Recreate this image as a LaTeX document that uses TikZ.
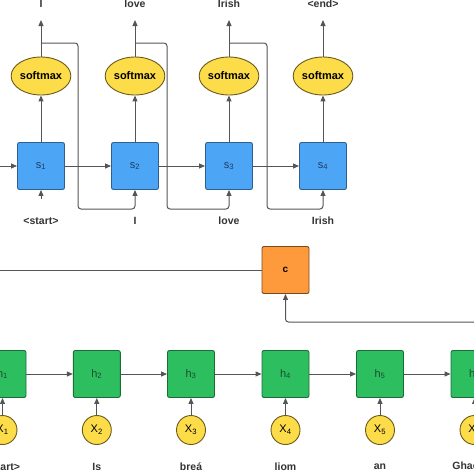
\documentclass[tikz,border=0pt]{standalone}
\usepackage{fontspec}
\setmainfont{Liberation Sans}
\usetikzlibrary{arrows.meta, shapes.geometric}
\definecolor{sfill}{HTML}{4DA6F5}
\definecolor{sline}{HTML}{2F5F8F}
\definecolor{stext}{HTML}{1F3A66}
\definecolor{hfill}{HTML}{2DBE60}
\definecolor{hline}{HTML}{1E6B3A}
\definecolor{htext}{HTML}{1D4D2D}
\definecolor{cfill}{HTML}{FF9A3C}
\definecolor{cline}{HTML}{7A4A1E}
\definecolor{yfill}{HTML}{FDDC4A}
\definecolor{yline}{HTML}{6B5A1A}
\definecolor{wiregray}{HTML}{555555}
\definecolor{wordgray}{HTML}{333333}
\tikzset{
  cell/.style={rounded corners=2pt, minimum size=47pt, inner sep=0pt, line width=0.9pt,
    font=\fontsize{11}{13}\selectfont},
  sbox/.style={cell, draw=sline, fill=sfill, text=stext},
  hbox/.style={cell, draw=hline, fill=hfill, text=htext},
  cbox/.style={cell, draw=cline, fill=cfill, text=black, font=\bfseries\fontsize{10}{12}\selectfont},
  smax/.style={ellipse, draw=yline, fill=yfill, line width=0.9pt, minimum width=54pt,
    minimum height=38pt, inner sep=0pt, font=\bfseries\fontsize{11}{13}\selectfont},
  xin/.style={circle, draw=yline, fill=yfill, line width=0.9pt, minimum size=29pt,
    inner sep=0pt, font=\fontsize{11}{13}\selectfont},
  word/.style={text=wordgray, font=\bfseries\fontsize{10.5}{12}\selectfont},
  wire/.style={draw=wiregray, line width=1pt, rounded corners=3pt},
  flow/.style={wire, -{Triangle[length=6pt,width=5pt]}}
}
\begin{document}
\begin{tikzpicture}[x=1pt, y=-1pt]
\useasboundingbox (0,0) rectangle (474,474);
% decoder
\foreach \i/\x/\inw/\outw in {1/41/{<start>}/I, 2/135/I/love, 3/229/love/Irish, 4/323/Irish/{<end>}} {
  \node[sbox] (s\i) at (\x,166) {s\textsubscript{\i}};
  \node[smax] (sm\i) at (\x,76) {softmax};
  \node[word] (out\i) at (\x,4) {\outw};
  \node[word] (in\i) at (\x,221) {\inw};
  \coordinate (top\i) at (\x,20);
  \coordinate (fb\i) at (\x,43);
  \draw[flow] (s\i) -- (sm\i);
  \draw[flow] (sm\i) -- (top\i);
}
\coordinate (lin) at (0,166);
\coordinate (st) at (41,199);
\draw[flow] (lin) -- (s1);
\draw[flow] (st) -- (s1);
\foreach \i/\j in {1/2, 2/3, 3/4}
  \draw[flow] (s\i) -- (s\j);
\foreach \i/\j/\turn in {1/2/78, 2/3/167, 3/4/267}
  \draw[flow] (fb\i) -| (\turn,209) -| (s\j);
% context
\node[cbox] (c) at (285.5,270) {c};
\coordinate (cl) at (0,270);
\coordinate (cr) at (474,322);
\draw[wire] (cl) -- (c);
\draw[flow] (cr) -| (c);
% encoder
\foreach \i/\x/\w in {1/2.5/{<start>}, 2/96.8/Is, 3/191/breá, 4/285.5/liom, 5/380/an, 6/474.5/Ghaeilge} {
  \node[hbox] (h\i) at (\x,374) {h\textsubscript{\i}};
  \node[xin] (x\i) at (\x,430) {X\textsubscript{\i}};
  \node[word] (w\i) at (\x,467) {\w};
  \draw[flow] (x\i) -- (h\i);
}
\foreach \i/\j in {1/2, 2/3, 3/4, 4/5, 5/6}
  \draw[flow] (h\i) -- (h\j);
\end{tikzpicture}
\end{document}
